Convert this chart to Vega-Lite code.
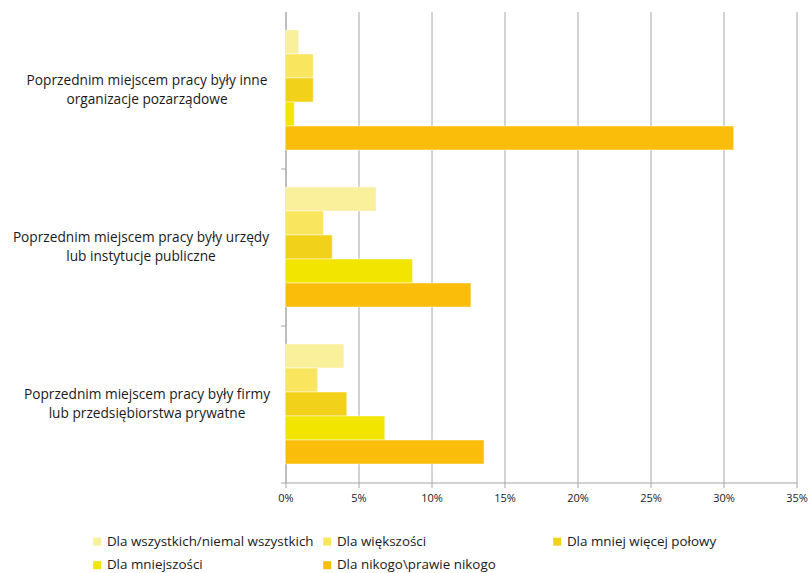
{
  "$schema": "https://vega.github.io/schema/vega-lite/v6.json",
  "width": 511,
  "height": 471,
  "autosize": {"type": "none"},
  "padding": {"left": 285.5, "top": 11.5, "right": 13.5, "bottom": 90.5},
  "background": "#ffffff",
  "config": {
    "view": {"stroke": null},
    "font": "Open Sans",
    "axis": {"labelColor": "#1a1a1a", "labelFont": "Open Sans"},
    "legend": {"labelColor": "#1a1a1a", "labelFont": "Open Sans"}
  },
  "data": {
    "values": [
      {"kategoria": "Poprzednim miejscem pracy były inne\norganizacje pozarządowe", "grupa": "Dla wszystkich/niemal wszystkich", "udzial": 0.9},
      {"kategoria": "Poprzednim miejscem pracy były inne\norganizacje pozarządowe", "grupa": "Dla większości", "udzial": 1.9},
      {"kategoria": "Poprzednim miejscem pracy były inne\norganizacje pozarządowe", "grupa": "Dla mniej więcej połowy", "udzial": 1.9},
      {"kategoria": "Poprzednim miejscem pracy były inne\norganizacje pozarządowe", "grupa": "Dla mniejszości", "udzial": 0.6},
      {"kategoria": "Poprzednim miejscem pracy były inne\norganizacje pozarządowe", "grupa": "Dla nikogo\\prawie nikogo", "udzial": 30.7},
      {"kategoria": "Poprzednim miejscem pracy były urzędy\nlub instytucje publiczne", "grupa": "Dla wszystkich/niemal wszystkich", "udzial": 6.2},
      {"kategoria": "Poprzednim miejscem pracy były urzędy\nlub instytucje publiczne", "grupa": "Dla większości", "udzial": 2.6},
      {"kategoria": "Poprzednim miejscem pracy były urzędy\nlub instytucje publiczne", "grupa": "Dla mniej więcej połowy", "udzial": 3.2},
      {"kategoria": "Poprzednim miejscem pracy były urzędy\nlub instytucje publiczne", "grupa": "Dla mniejszości", "udzial": 8.7},
      {"kategoria": "Poprzednim miejscem pracy były urzędy\nlub instytucje publiczne", "grupa": "Dla nikogo\\prawie nikogo", "udzial": 12.7},
      {"kategoria": "Poprzednim miejscem pracy były firmy\nlub przedsiębiorstwa prywatne", "grupa": "Dla wszystkich/niemal wszystkich", "udzial": 4.0},
      {"kategoria": "Poprzednim miejscem pracy były firmy\nlub przedsiębiorstwa prywatne", "grupa": "Dla większości", "udzial": 2.2},
      {"kategoria": "Poprzednim miejscem pracy były firmy\nlub przedsiębiorstwa prywatne", "grupa": "Dla mniej więcej połowy", "udzial": 4.2},
      {"kategoria": "Poprzednim miejscem pracy były firmy\nlub przedsiębiorstwa prywatne", "grupa": "Dla mniejszości", "udzial": 6.8},
      {"kategoria": "Poprzednim miejscem pracy były firmy\nlub przedsiębiorstwa prywatne", "grupa": "Dla nikogo\\prawie nikogo", "udzial": 13.6}
    ]
  },
  "mark": {"type": "bar", "stroke": "#ffffff", "strokeOpacity": 0.45, "strokeWidth": 1},
  "encoding": {
    "y": {
      "field": "kategoria",
      "type": "nominal",
      "sort": null,
      "scale": {"paddingInner": 0.236, "paddingOuter": 0.118},
      "axis": {
        "title": null,
        "labelExpr": "split(datum.label, '\\n')",
        "labelAlign": "center",
        "labelBaseline": "middle",
        "labelPadding": {"condition": {"test": "datum.value == 'Poprzednim miejscem pracy były urzędy\\nlub instytucje publiczne'", "value": 140}, "value": 134},
        "labelFontSize": 13.7,
        "labelLineHeight": 18.5,
        "labelLimit": 300,
        "tickOffset": 78.5,
        "labelOffset": -87.75,
        "tickSize": 5,
        "tickColor": "#a6a6a6",
        "domainColor": "#a6a6a6",
        "grid": false
      }
    },
    "yOffset": {
      "field": "grupa",
      "type": "nominal",
      "sort": ["Dla wszystkich/niemal wszystkich", "Dla większości", "Dla mniej więcej połowy", "Dla mniejszości", "Dla nikogo\\prawie nikogo"],
      "scale": {"paddingInner": 0, "paddingOuter": 0}
    },
    "x": {
      "field": "udzial",
      "type": "quantitative",
      "scale": {"domain": [0, 35], "nice": false},
      "axis": {
        "title": null,
        "values": [0, 5, 10, 15, 20, 25, 30, 35],
        "labelExpr": "datum.value + '%'",
        "labelFontSize": 11,
        "labelPadding": 5,
        "labelFlush": false,
        "tickSize": 5,
        "tickColor": "#a6a6a6",
        "domainColor": "#a6a6a6",
        "gridColor": "#a6a6a6",
        "gridWidth": 1
      }
    },
    "color": {
      "field": "grupa",
      "type": "nominal",
      "sort": ["Dla wszystkich/niemal wszystkich", "Dla większości", "Dla mniej więcej połowy", "Dla mniejszości", "Dla nikogo\\prawie nikogo"],
      "scale": {
        "domain": ["Dla wszystkich/niemal wszystkich", "Dla większości", "Dla mniej więcej połowy", "Dla mniejszości", "Dla nikogo\\prawie nikogo"],
        "range": ["#faef9b", "#fae55f", "#f2d11b", "#f2e600", "#fabe0a"]
      },
      "legend": {
        "title": null,
        "orient": "none",
        "legendX": -195,
        "legendY": 523,
        "direction": "horizontal",
        "columns": 3,
        "gridAlign": "all",
        "columnPadding": 6,
        "rowPadding": 9,
        "symbolType": "square",
        "symbolSize": 64,
        "symbolStrokeWidth": 0,
        "symbolOpacity": 1,
        "labelFontSize": 13.4,
        "labelOffset": 3,
        "labelLimit": 300
      }
    }
  }
}
